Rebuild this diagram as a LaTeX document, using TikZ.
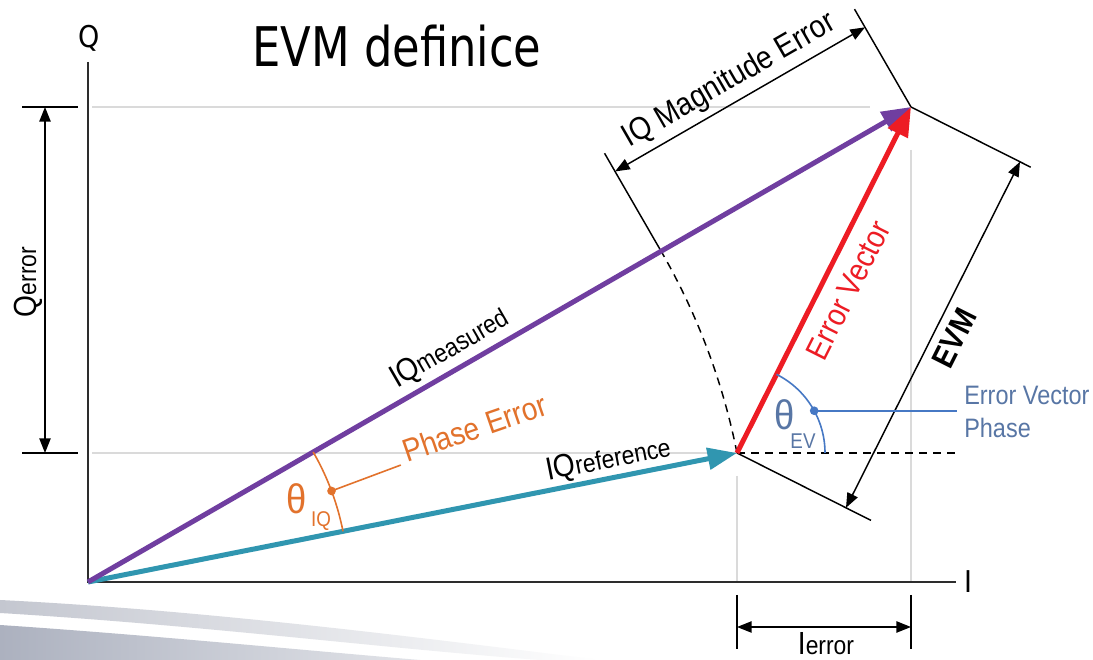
\documentclass[tikz,border=0pt]{standalone}
\usepackage{fontspec}
\usetikzlibrary{arrows.meta,calc}
\newfontfamily\labf{Liberation Sans}[FakeStretch=0.88]
\newfontfamily\ttlf{DejaVu Sans}[FakeStretch=0.82]
\newfontfamily\axf{DejaVu Sans}[FakeStretch=0.9]
\definecolor{cpur}{RGB}{112,62,160}
\definecolor{cteal}{RGB}{48,150,176}
\definecolor{cred}{RGB}{237,28,36}
\definecolor{corg}{RGB}{226,114,44}
\definecolor{cblu}{RGB}{70,120,196}
\definecolor{cbtx}{RGB}{88,118,165}
\definecolor{cgrid}{RGB}{218,218,218}
\definecolor{cax}{RGB}{45,45,45}
\definecolor{cswa}{RGB}{196,199,208}
\definecolor{cswb}{RGB}{172,177,191}
\newcommand\bigL{\fontsize{24}{28}\selectfont}
\newcommand\smL{\fontsize{19.5}{23}\selectfont}
\begin{document}
\begin{tikzpicture}[x=0.75pt,y=0.75pt,
  guide/.style={draw=cgrid,line width=1.1pt},
  axisln/.style={draw=cax,line width=1.5pt},
  dimln/.style={draw=black,line width=1.1pt},
  dimarr/.style={dimln,{Triangle[length=11pt,width=8.5pt]}-{Triangle[length=11pt,width=8.5pt]}},
  dashln/.style={draw=black,line width=1.1pt,dash pattern=on 6pt off 4.5pt},
  vec/.style={line width=3.75pt,-{Triangle[length=22pt,width=16pt]}},
  lbl/.style={inner sep=0pt,font=\labf\bigL},
  dotn/.style={circle,inner sep=0pt,minimum size=6.5pt}
]
\useasboundingbox (0,0) rectangle (1093,660);
\fill[white] (0,0) rectangle (1093,660);
% decorative swoosh
\shade[left color=cswa,right color=white] (0,60) .. controls (200,50) and (400,25) .. (600,0) -- (540,0) .. controls (380,12) and (200,35) .. (0,47) -- cycle;
\shade[left color=cswb,right color=cswb!35] (0,35) .. controls (150,25) and (300,10) .. (420,0) -- (0,0) -- cycle;

% key points
\coordinate (O) at (88,78);
\coordinate (R) at (737,207);
\coordinate (M) at (911,553);
\coordinate (Qtop) at (88,598);
\coordinate (Iend) at (956,78);

% guides
\coordinate (g1a) at (92,553); \coordinate (g1b) at (870,553);
\coordinate (g2a) at (92,207);
\coordinate (g3a) at (737,184); \coordinate (g3b) at (737,78);
\coordinate (g4a) at (911,510); \coordinate (g4b) at (911,78);
\draw[guide] (g1a) -- (g1b);
\draw[guide] (g2a) -- (R);
\draw[guide] (g3a) -- (g3b);
\draw[guide] (g4a) -- (g4b);

% axes
\draw[axisln] (Qtop) -- (O) -- (Iend);
\node[font=\axf\fontsize{22.5}{26}\selectfont,inner sep=0pt] (qlab) at (89,622) {Q};
\node[font=\axf\fontsize{22.5}{26}\selectfont,inner sep=0pt] (ilab) at (968,78) {I};

% title
\node[font=\ttlf\fontsize{41}{48}\selectfont,inner sep=0pt,anchor=base west] (title) at (252,593) {EVM definice};

% Qerror dimension
\coordinate (qt1a) at (22,553); \coordinate (qt1b) at (78,553);
\coordinate (qt2a) at (22,207); \coordinate (qt2b) at (78,207);
\coordinate (qa1) at (45,553); \coordinate (qa2) at (45,207);
\draw[dimln] (qt1a) -- (qt1b);
\draw[dimln] (qt2a) -- (qt2b);
\draw[dimarr] (qa1) -- (qa2);
\node[lbl,rotate=90,anchor=base] (qerr) at (36,378) {{\bigL Q}{\smL error}};

% Ierror dimension
\coordinate (it1a) at (737,65); \coordinate (it1b) at (737,11);
\coordinate (it2a) at (911,65); \coordinate (it2b) at (911,11);
\coordinate (ia1) at (737,33); \coordinate (ia2) at (911,33);
\draw[dimln] (it1a) -- (it1b);
\draw[dimln] (it2a) -- (it2b);
\draw[dimarr] (ia1) -- (ia2);
\node[lbl,anchor=base] (ierr) at (826,5) {{\bigL I}{\smL error}};

% magnitude arc and dimension
\coordinate (A) at ($(O)+(30:661.7)$);
\draw[dashln] (R) arc[start angle=11.24,end angle=30,radius=661.7];
\coordinate (Aend) at ($(A)+(120:113)$);
\coordinate (Mend) at ($(M)+(120:113)$);
\coordinate (Aarr) at ($(A)+(120:92)$);
\coordinate (Marr) at ($(M)+(120:92)$);
\draw[dimln] (A) -- (Aend);
\draw[dimln] (M) -- (Mend);
\draw[dimarr] (Aarr) -- (Marr);
\node[lbl,rotate=30,anchor=base] (magl) at (733.5,572) {IQ Magnitude Error};

% horizontal dashed through R
\coordinate (Rh) at (957,207);
\draw[dashln] (R) -- (Rh);

% EVM dimension
\coordinate (Mt) at ($(M)+(-26.7:134)$);
\coordinate (Rt) at ($(R)+(-26.7:150)$);
\coordinate (Ma) at ($(M)+(-26.7:122)$);
\coordinate (Ra) at ($(R)+(-26.7:122)$);
\draw[dimln] (M) -- (Mt);
\draw[dimln] (R) -- (Rt);
\draw[dimarr] (Ma) -- (Ra);
\node[lbl,rotate=63.3,font=\labf\bigL\bfseries] (evml) at (954,322) {EVM};

% vectors
\draw[vec,cteal] (O) -- (R);
\draw[vec,cpur] (O) -- (M);
\draw[vec,cred] (R) -- (M);

\node[lbl,rotate=30,anchor=base] (meas) at (454,304) {{\bigL IQ}{\smL measured}};
\node[lbl,rotate=11.24,anchor=base] (refl) at (610,192) {{\bigL IQ}{\smL reference}};
\node[lbl,rotate=63.3,anchor=base,text=cred] (evl) at (858,365) {Error Vector};

% phase error angle
\draw[corg,line width=1.2pt] ($(O)+(11.24:260)$) arc[start angle=11.24,end angle=30,radius=260];
\coordinate (pd) at ($(O)+(20.5:260)$);
\coordinate (pl) at ($(O)+(20.5:334)$);
\draw[corg,line width=1.2pt] (pd) -- (pl);
\node[dotn,fill=corg] (pdot) at (pd) {};
\node[lbl,rotate=19,anchor=base west,text=corg] (phl) at (407,197) {Phase Error};
\node[lbl,text=corg,font=\labf\fontsize{31}{34}\selectfont] (thiq) at (297,161) {θ};
\node[lbl,text=corg,font=\labf\fontsize{16}{18}\selectfont] (thiqs) at (321,139) {IQ};

% error vector phase angle
\draw[cblu,line width=1.2pt] ($(R)+(88,0)$) arc[start angle=0,end angle=63.3,radius=88];
\coordinate (ed) at ($(R)+(28.7:88)$);
\coordinate (elx) at (957,0);
\draw[cblu,line width=1.2pt] (ed) -- (ed -| elx);
\node[dotn,fill=cblu] (edot) at (ed) {};
\node[lbl,text=cbtx,font=\labf\fontsize{31}{34}\selectfont] (thev) at (785,245) {θ};
\node[lbl,text=cbtx,font=\labf\fontsize{16}{18}\selectfont] (thevs) at (803,219) {EV};
\node[lbl,text=cbtx,font=\labf\fontsize{20}{24.75}\selectfont,align=left,anchor=west] (evpl) at (964,248) {Error Vector\\Phase};
\end{tikzpicture}
\end{document}
